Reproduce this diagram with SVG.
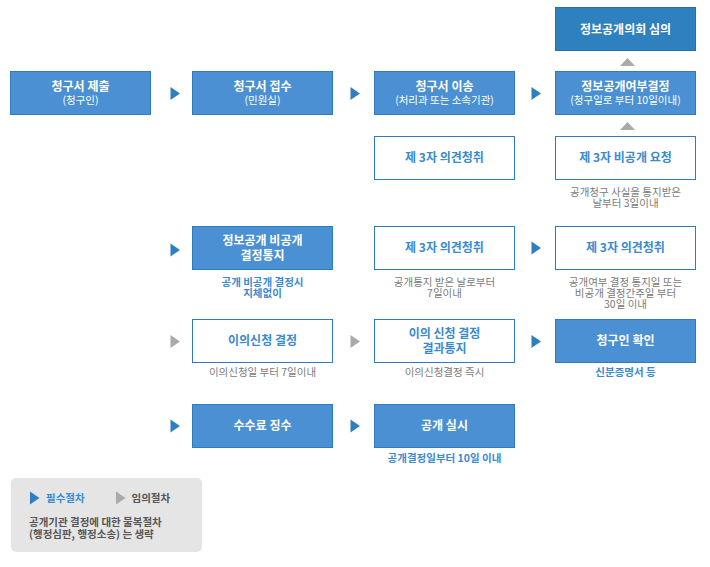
<svg xmlns="http://www.w3.org/2000/svg" xmlns:xlink="http://www.w3.org/1999/xlink" width="710" height="567" viewBox="0 0 710 567">
<defs>
<style>
text{font-family:"Noto Sans CJK KR","Liberation Sans",sans-serif;text-anchor:middle}
.bf{fill:#4a90d2;stroke:#2f7bbf;stroke-width:1}
.df{fill:#2f80be;stroke:#286fa9;stroke-width:1}
.wb{fill:#ffffff;stroke:#2f7bbf;stroke-width:1}
.t{font-size:12px;font-weight:bold;fill:#ffffff}
.s{font-size:10.5px;fill:#ffffff}
.tb{font-size:12px;font-weight:bold;fill:#3a8ad0}
.cg{font-size:10.5px;fill:#7a7a7a}
.cb{font-size:10.5px;fill:#3a8ad0;font-weight:bold}
.ab{fill:#2f7fc0}
.ag{fill:#aaaaaa}
.lg{font-size:10.5px;font-weight:bold;fill:#555555;text-anchor:start}
</style>
<path id="ar" d="M0,-6.5 L9.5,0 L0,6.5 Z"/>
<path id="up" d="M-7.5,4 L0,-4 L7.5,4 Z"/>
</defs>
<rect width="710" height="567" fill="#ffffff"/>

<g id="connectors">
<use xlink:href="#ar" class="ab" x="170.5" y="93.5"/>
<use xlink:href="#ar" class="ab" x="350.5" y="93.5"/>
<use xlink:href="#ar" class="ab" x="531.5" y="93.5"/>
<use xlink:href="#up" class="ag" x="627.5" y="62"/>
<use xlink:href="#up" class="ag" x="627.5" y="126"/>
<use xlink:href="#ar" class="ab" x="170.5" y="250"/>
<use xlink:href="#ar" class="ab" x="531.5" y="248"/>
<use xlink:href="#ar" class="ag" x="170.5" y="341.5"/>
<use xlink:href="#ar" class="ag" x="350.5" y="341.5"/>
<use xlink:href="#ar" class="ab" x="531.5" y="341.5"/>
<use xlink:href="#ar" class="ab" x="170.5" y="426"/>
<use xlink:href="#ar" class="ab" x="350.5" y="426"/>
</g>

<g id="n-submit">
<rect class="bf" x="10.5" y="71.5" width="140" height="43"/>
<text class="t" x="80.5" y="90.5">청구서 제출</text>
<text class="s" x="80.5" y="104">(청구인)</text>
</g>
<g id="n-receive">
<rect class="bf" x="192.5" y="71.5" width="140" height="43"/>
<text class="t" x="262.5" y="90.5">청구서 접수</text>
<text class="s" x="262.5" y="104">(민원실)</text>
</g>
<g id="n-transfer">
<rect class="bf" x="374.5" y="71.5" width="140" height="43"/>
<text class="t" x="444.5" y="90.5">청구서 이송</text>
<text class="s" x="444.5" y="104">(처리과 또는 소속기관)</text>
</g>
<g id="n-decide">
<rect class="bf" x="555.5" y="71.5" width="140" height="43"/>
<text class="t" x="625.5" y="90.5">정보공개여부결정</text>
<text class="s" x="625.5" y="104">(청구일로 부터 10일이내)</text>
</g>
<g id="n-committee">
<rect class="df" x="555.5" y="7.5" width="140" height="43"/>
<text class="t" x="625.5" y="33.5">정보공개의회 심의</text>
</g>
<g id="n-third1">
<rect class="wb" x="374.5" y="136.5" width="140" height="43"/>
<text class="tb" x="444.5" y="162">제 3자 의견청취</text>
</g>
<g id="n-third-request">
<rect class="wb" x="555.5" y="136.5" width="140" height="43"/>
<text class="tb" x="625.5" y="162">제 3자 비공개 요청</text>
<text class="cg" x="625.5" y="195.5">공개청구 사실을 통지받은<tspan x="625.5" dy="11.5">날부터 3일이내</tspan></text>
</g>
<g id="n-nondisclose">
<rect class="bf" x="192.5" y="226.5" width="140" height="43"/>
<text class="t" x="262.5" y="244.5">정보공개 비공개<tspan x="262.5" dy="15.5">결정통지</tspan></text>
<text class="cb" x="262.5" y="285.5">공개 비공개 결정시<tspan x="262.5" dy="11.5">지체없이</tspan></text>
</g>
<g id="n-third2">
<rect class="wb" x="374.5" y="226.5" width="140" height="43"/>
<text class="tb" x="444.5" y="252">제 3자 의견청취</text>
<text class="cg" x="444.5" y="285.5">공개통지 받은 날로부터<tspan x="444.5" dy="11.5">7일이내</tspan></text>
</g>
<g id="n-third3">
<rect class="wb" x="555.5" y="226.5" width="140" height="43"/>
<text class="tb" x="625.5" y="252">제 3자 의견청취</text>
<text class="cg" x="625.5" y="285.5">공개여부 결정 통지일 또는<tspan x="625.5" dy="11">비공개 결정간주일 부터</tspan><tspan x="625.5" dy="11">30일 이내</tspan></text>
</g>
<g id="n-objection">
<rect class="wb" x="192.5" y="319.5" width="140" height="43"/>
<text class="tb" x="262.5" y="345">이의신청 결정</text>
<text class="cg" x="262.5" y="376">이의신청일 부터 7일이내</text>
</g>
<g id="n-objection-result">
<rect class="wb" x="374.5" y="319.5" width="140" height="43"/>
<text class="tb" x="444.5" y="337.5">이의 신청 결정<tspan x="444.5" dy="15.5">결과통지</tspan></text>
<text class="cg" x="444.5" y="376">이의신청결정 즉시</text>
</g>
<g id="n-identify">
<rect class="bf" x="555.5" y="319.5" width="140" height="43"/>
<text class="t" x="625.5" y="345">청구인 확인</text>
<text class="cb" x="625.5" y="376">신분증명서 등</text>
</g>
<g id="n-fee">
<rect class="bf" x="192.5" y="404.5" width="140" height="43"/>
<text class="t" x="262.5" y="430">수수료 징수</text>
</g>
<g id="n-disclose">
<rect class="bf" x="374.5" y="404.5" width="140" height="43"/>
<text class="t" x="444.5" y="430">공개 실시</text>
<text class="cb" x="444.5" y="462">공개결정일부터 10일 이내</text>
</g>

<g id="legend">
<rect x="11" y="478" width="191" height="74" rx="5" fill="#e5e5e5"/>
<use xlink:href="#ar" class="ab" x="30" y="498"/>
<text class="lg" x="46" y="502" style="fill:#3a8ad0">필수절차</text>
<use xlink:href="#ar" class="ag" x="116" y="498"/>
<text class="lg" x="131.5" y="502">임의절차</text>
<text class="lg" x="29" y="525.5">공개기관 결정에 대한 불복절차<tspan x="29" dy="12.5">(행정심판, 행정소송) 는 생략</tspan></text>
</g>
</svg>
